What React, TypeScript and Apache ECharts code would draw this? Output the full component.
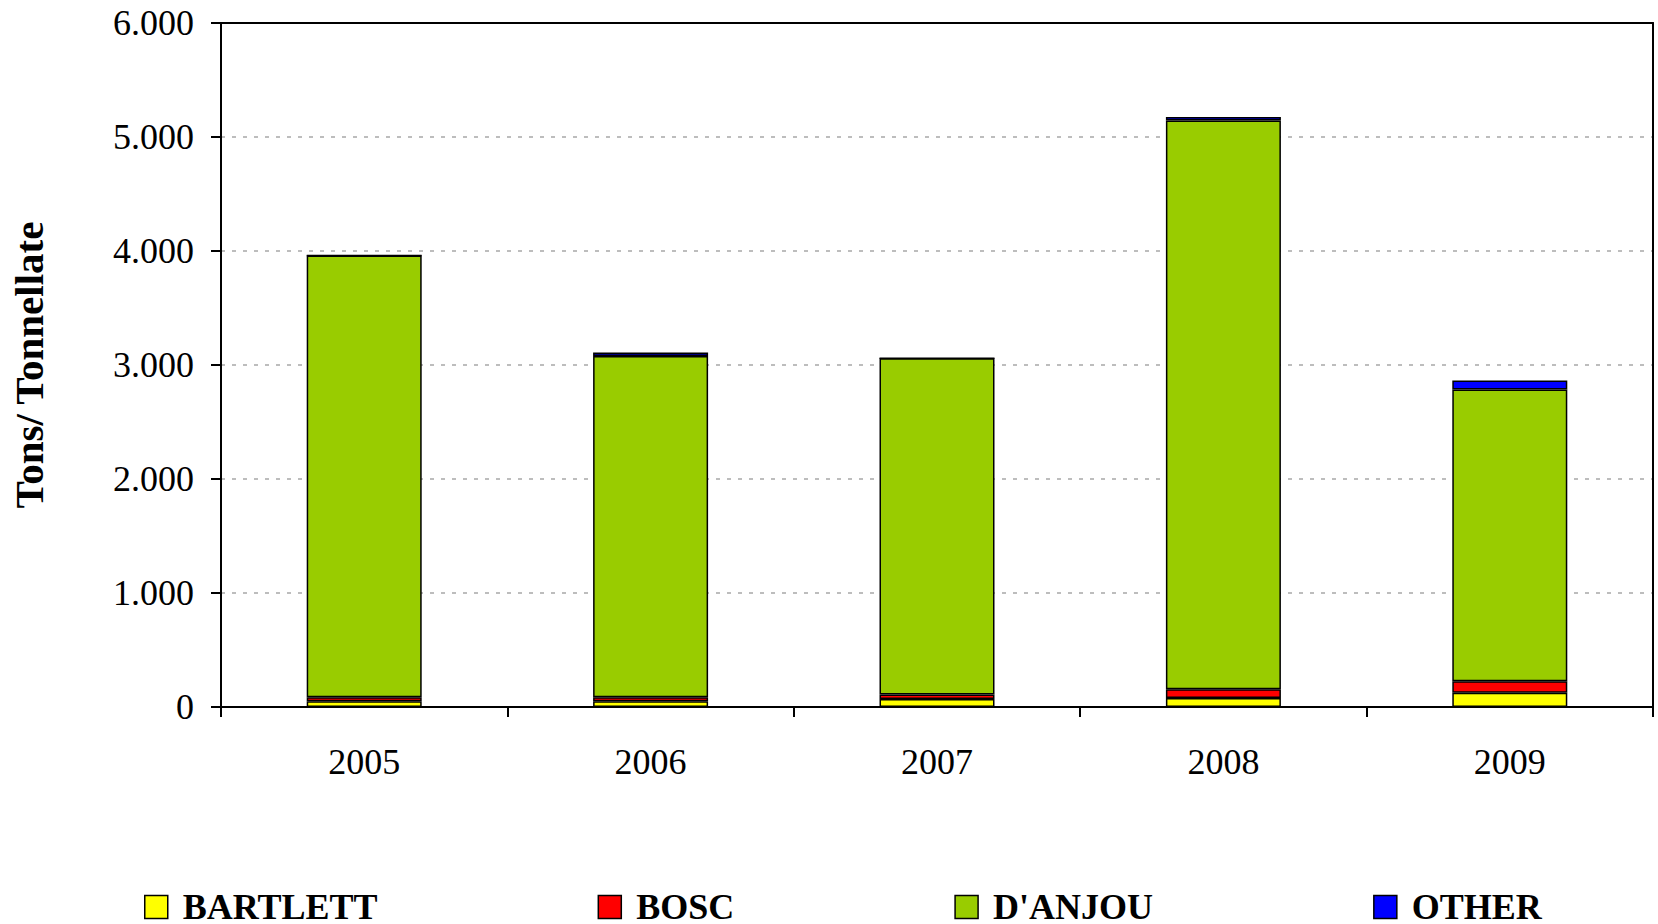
import React, { useEffect, useRef } from "react";
import * as echarts from "echarts";

const years = ["2005", "2006", "2007", "2008", "2009"];
const bartlett = [50, 50, 70, 80, 125];
const bosc = [35, 35, 40, 75, 100];
const danjou = [3875, 2995, 2950, 4990, 2560];
const other = [0, 30, 0, 30, 80];
const yTicks = [0, 1000, 2000, 3000, 4000, 5000, 6000];

const FONT = '"Liberation Serif", "Times New Roman", serif';

export default function App() {
  const ref = useRef<HTMLDivElement>(null);
  useEffect(() => {
    document.body.style.margin = "0";
    const chart = echarts.init(ref.current!, undefined, { renderer: "svg" });
    const mk = (name: string, data: number[], color: string) => ({
      name,
      type: "bar",
      stack: "total",
      data,
      barWidth: 115,
      itemStyle: { color, borderColor: "#000", borderWidth: 1.5 },
    });
    const frameAxis = {
      axisLine: { show: true, onZero: false, lineStyle: { color: "#000", width: 2 } },
      axisTick: { show: false },
      axisLabel: { show: false },
      splitLine: { show: false },
      z: 8,
    };
    chart.setOption({
      animation: false,
      textStyle: { fontFamily: FONT },
      grid: {
        left: 220,
        right: 5,
        top: 23,
        bottom: 217,
      },
      legend: {
        left: 139,
        top: 884,
        itemGap: 220,
        itemWidth: 23,
        itemHeight: 23,
        icon: "rect",
        textStyle: {
          fontFamily: FONT,
          fontSize: 36,
          lineHeight: 30,
          fontWeight: "bold",
          color: "#000",
          padding: [0, 0, 0, 10],
        },
        itemStyle: { borderColor: "#000", borderWidth: 1.5 },
      },
      xAxis: [
        {
          type: "category",
          data: years,
          axisLine: { lineStyle: { color: "#000", width: 2 } },
          axisTick: { show: true, length: 10, lineStyle: { color: "#000", width: 2 } },
          axisLabel: { fontFamily: FONT, fontSize: 36, color: "#000", margin: 37 },
          z: 6,
        },
        { type: "category", data: years, position: "top", ...frameAxis },
      ],
      yAxis: [
        {
          type: "value",
          min: yTicks[0],
          max: yTicks[yTicks.length - 1],
          interval: 1000,
          name: "Tons/ Tonnellate",
          nameLocation: "middle",
          nameGap: 172,
          nameTextStyle: { fontFamily: FONT, fontSize: 41, fontWeight: "bold", color: "#000" },
          axisLine: { show: true, lineStyle: { color: "#000", width: 2 } },
          axisTick: { show: true, length: 10, lineStyle: { color: "#000", width: 2 } },
          axisLabel: {
            fontFamily: FONT,
            fontSize: 36,
            color: "#000",
            margin: 27,
            formatter: (v: number) => v.toLocaleString("de-DE"),
          },
          splitLine: { show: true, lineStyle: { color: "#bdbdbd", width: 2, type: [4, 7] } },
          z: 2,
        },
        {
          type: "value",
          min: yTicks[0],
          max: yTicks[yTicks.length - 1],
          interval: 1000,
          position: "right",
          ...frameAxis,
        },
      ],
      series: [
        mk("BARTLETT", bartlett, "#ffff00"),
        mk("BOSC", bosc, "#ff0000"),
        mk("D'ANJOU", danjou, "#99cc00"),
        mk("OTHER", other, "#0000ff"),
      ],
    });
    return () => chart.dispose();
  }, []);
  return <div ref={ref} style={{ width: 1658, height: 924 }} />;
}
